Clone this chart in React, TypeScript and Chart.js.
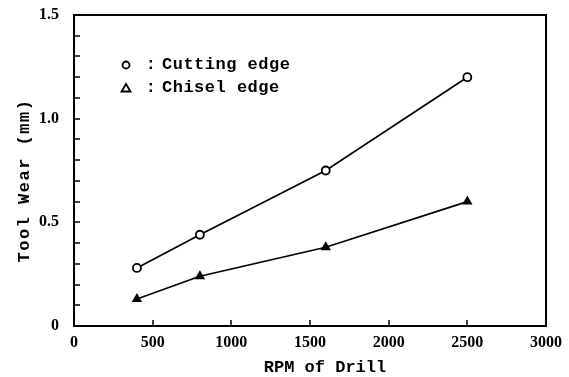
import React, { useEffect, useRef } from 'react';
import { Chart, registerables } from 'chart.js';

Chart.register(...registerables);

const rpm = [400, 800, 1600, 2500];
const cuttingEdge = [0.28, 0.44, 0.75, 1.2];
const chiselEdge = [0.13, 0.24, 0.38, 0.6];
const legendLabels = ['Cutting edge', 'Chisel edge'];
const xTitle = 'RPM of Drill';
const yTitle = 'Tool Wear (mm)';

const TITLE_FONT = '"Liberation Mono", "DejaVu Sans Mono", monospace';
const TICK_FONT = '"Liberation Serif", serif';

const framePlugin = {
  id: 'frame',
  beforeDatasetsDraw(chart: any) {
    const { ctx, chartArea: ca, scales } = chart;
    ctx.save();
    ctx.strokeStyle = '#000';
    ctx.lineWidth = 2;
    ctx.strokeRect(ca.left, ca.top, ca.right - ca.left, ca.bottom - ca.top);
    ctx.lineWidth = 1.5;
    const y = scales.y;
    for (const t of y.ticks) {
      const py = Math.round(y.getPixelForValue(t.value));
      ctx.beginPath();
      ctx.moveTo(ca.left, py);
      ctx.lineTo(ca.left + 6, py);
      ctx.stroke();
    }
    const x = scales.x;
    for (const t of x.ticks) {
      const px = Math.round(x.getPixelForValue(t.value));
      ctx.beginPath();
      ctx.moveTo(px, ca.bottom);
      ctx.lineTo(px, ca.bottom - 6);
      ctx.stroke();
    }
    ctx.restore();
  },
  afterDraw(chart: any) {
    const { ctx, chartArea: ca } = chart;
    ctx.save();
    ctx.fillStyle = '#000';
    ctx.strokeStyle = '#000';
    // axis titles
    ctx.font = 'bold 17px ' + TITLE_FONT;
    ctx.textBaseline = 'middle';
    ctx.textAlign = 'center';
    ctx.fillText(xTitle, (ca.left + ca.right) / 2 + 15, 368);
    ctx.save();
    (ctx as any).letterSpacing = '1.5px';
    ctx.translate(25, (ca.top + ca.bottom) / 2 + 10);
    ctx.rotate(-Math.PI / 2);
    ctx.fillText(yTitle, 0, 0);
    ctx.restore();
    // legend
    ctx.font = 'bold 17px ' + TITLE_FONT;
    (ctx as any).letterSpacing = '0.5px';
    ctx.textAlign = 'left';
    legendLabels.forEach((label, i) => {
      const mx = ca.left + 52;
      const my = ca.top + 50 + i * 23;
      ctx.lineWidth = 1.8;
      if (i === 0) {
        ctx.beginPath();
        ctx.arc(mx, my, 3.5, 0, Math.PI * 2);
        ctx.stroke();
      } else {
        ctx.beginPath();
        ctx.moveTo(mx, my - 4);
        ctx.lineTo(mx + 4.5, my + 3.5);
        ctx.lineTo(mx - 4.5, my + 3.5);
        ctx.closePath();
        ctx.stroke();
      }
      ctx.textAlign = 'center';
      ctx.fillText(':', mx + 25, my);
      ctx.textAlign = 'left';
      ctx.fillText(label, mx + 36, my);
    });
    ctx.restore();
  },
};

export default function App() {
  const ref = useRef<HTMLCanvasElement>(null);
  useEffect(() => {
    if (!ref.current) return;
    const chart = new Chart(ref.current, {
      type: 'line',
      data: {
        datasets: [
          {
            label: legendLabels[0],
            data: rpm.map((r, i) => ({ x: r, y: cuttingEdge[i] })),
            borderColor: '#000',
            borderWidth: 1.7,
            pointStyle: 'circle',
            pointRadius: 4,
            pointBorderWidth: 1.8,
            pointBackgroundColor: '#fff',
            pointBorderColor: '#000',
          },
          {
            label: legendLabels[1],
            data: rpm.map((r, i) => ({ x: r, y: chiselEdge[i] })),
            borderColor: '#000',
            borderWidth: 1.7,
            pointStyle: 'triangle',
            pointRadius: 4.5,
            pointBorderWidth: 1.5,
            pointBackgroundColor: '#000',
            pointBorderColor: '#000',
          },
        ],
      },
      options: {
        animation: false,
        responsive: true,
        maintainAspectRatio: false,
        layout: { padding: { top: 15, right: 23, left: 0, bottom: 0 } },
        plugins: { legend: { display: false }, tooltip: { enabled: false } },
        scales: {
          x: {
            type: 'linear',
            min: 0,
            max: 3000,
            grid: { display: false, drawTicks: false },
            border: { display: false },
            ticks: {
              stepSize: 500,
              color: '#000',
              padding: 7,
              maxRotation: 0,
              font: { family: TICK_FONT, weight: 'bold', size: 16 },
              callback: (v: any) => String(v),
            },
            title: { display: false, text: xTitle },
            afterFit: (s: any) => {
              s.height = 51;
              s.paddingLeft = 0;
              s.paddingRight = 0;
            },
          },
          y: {
            type: 'linear',
            min: 0,
            max: 1.5,
            grid: { display: false, drawTicks: false },
            border: { display: false },
            ticks: {
              stepSize: 0.1,
              autoSkip: false,
              color: '#000',
              padding: 15,
              font: { family: TICK_FONT, weight: 'bold', size: 16 },
              callback: (v: any) => {
                const n = Math.round(Number(v) * 10);
                if (n % 5 !== 0) return '';
                return n === 0 ? '0' : (n / 10).toFixed(1);
              },
            },
            title: { display: false, text: yTitle },
            afterFit: (s: any) => {
              s.width = 74;
              s.paddingTop = 0;
              s.paddingBottom = 0;
            },
          },
        },
      },
      plugins: [framePlugin],
    });
    return () => chart.destroy();
  }, []);
  return (
    <div style={{ position: 'absolute', left: 0, top: 0, width: 569, height: 377, background: '#fff' }}>
      <canvas ref={ref} />
    </div>
  );
}
